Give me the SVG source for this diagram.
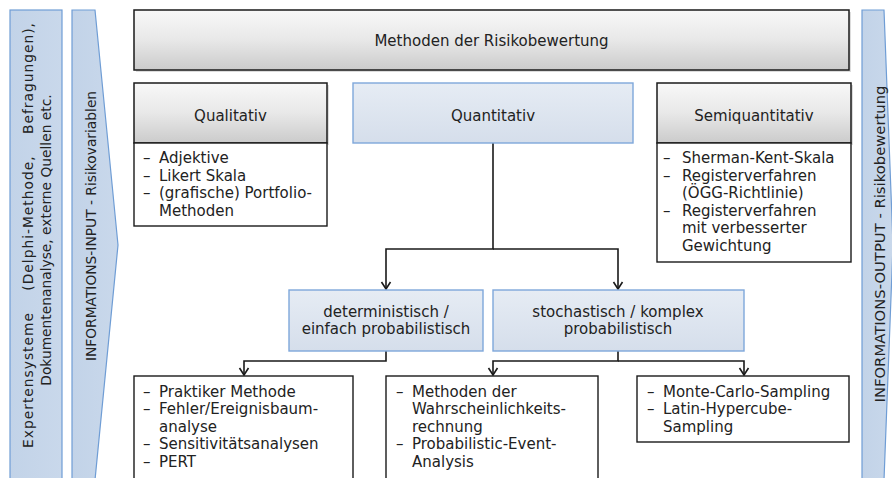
<svg xmlns="http://www.w3.org/2000/svg" width="892" height="478" viewBox="0 0 892 478">
  <defs>
    <linearGradient id="gGray" x1="0" y1="0" x2="0" y2="1">
      <stop offset="0" stop-color="#f8f8f8"/>
      <stop offset="0.5" stop-color="#e8e8e8"/>
      <stop offset="1" stop-color="#cbcbcb"/>
    </linearGradient>
    <linearGradient id="gBlue" x1="0" y1="0" x2="0" y2="1">
      <stop offset="0" stop-color="#e6ecf4"/>
      <stop offset="1" stop-color="#d5deeb"/>
    </linearGradient>
    <linearGradient id="gPanel" x1="0" y1="0" x2="1" y2="0">
      <stop offset="0" stop-color="#c2d3e8"/>
      <stop offset="1" stop-color="#c9d8eb"/>
    </linearGradient>
    <!-- open chevron arrowhead, pointing along the path direction -->
    <marker id="arr" viewBox="-9 -6 11 12" markerWidth="11" markerHeight="12" refX="0" refY="0" orient="auto" markerUnits="userSpaceOnUse" overflow="visible">
      <path d="M-7,-4.5 L0,0 L-7,4.5" fill="none" stroke="#1a1a1a" stroke-width="1.6"/>
    </marker>
  </defs>
  <style>
    text { font-family: "DejaVu Sans", Verdana, sans-serif; fill: #222; }
    .t15 { font-size: 15px; }
    .side { font-size: 13.8px; }
    .mid { text-anchor: middle; }
    .panel { fill: url(#gPanel); stroke: #6f9dd5; stroke-width: 1.2; }
    .gray { fill: url(#gGray); stroke: #1a1a1a; stroke-width: 1.5; }
    .blue { fill: url(#gBlue); stroke: #7ea7db; stroke-width: 1.4; }
    .list { fill: #ffffff; stroke: #1a1a1a; stroke-width: 1.4; }
    .shadow { fill: #9a9a9a; opacity: 0.35; }
    .conn { fill: none; stroke: #1a1a1a; stroke-width: 1.6; }
  </style>

  <rect width="892" height="478" fill="#ffffff"/>

  <!-- side panels -->
  <g id="panel-sources">
    <rect class="panel" x="10" y="10" width="52" height="475"/>
    <text class="side mid" transform="translate(33,235) rotate(-90)" letter-spacing="1" word-spacing="16">Expertensysteme (Delphi-Methode, Befragungen),</text>
    <text class="side mid" transform="translate(51,240) rotate(-90)">Dokumentenanalyse, externe Quellen etc.</text>
  </g>
  <g id="panel-input">
    <polygon class="panel" points="72,10 95,10 118,245 95,480 72,480"/>
    <text class="side mid" transform="translate(96,226) rotate(-90)">INFORMATIONS-INPUT - Risikovariablen</text>
  </g>
  <g id="panel-output">
    <polygon class="panel" points="862,10 884,10 893,245 884,480 862,480"/>
    <text class="mid" font-size="14.8" transform="translate(885,244) rotate(-90)">INFORMATIONS-OUTPUT - Risikobewertung</text>
  </g>

  <!-- connectors -->
  <g id="connectors">
    <path class="conn" d="M493,143 V249 H386 V289" marker-end="url(#arr)"/>
    <path class="conn" d="M493,249 H618 V289" marker-end="url(#arr)"/>
    <path class="conn" d="M386,351 V361 H244 V375" marker-end="url(#arr)"/>
    <path class="conn" d="M618,351 V361 H493 V375" marker-end="url(#arr)"/>
    <path class="conn" d="M618,361 H744 V375" marker-end="url(#arr)"/>
  </g>

  <!-- nodes -->
  <g id="methoden">
    <rect class="shadow" x="136" y="12" width="715" height="60"/>
    <rect class="gray" x="134" y="10" width="715" height="60"/>
    <text class="t15 mid" x="491.5" y="46">Methoden der Risikobewertung</text>
  </g>

  <g id="qualitativ">
    <rect class="shadow" x="136" y="85" width="193" height="60"/>
    <rect class="gray" x="134" y="83" width="193" height="60"/>
    <text class="t15 mid" x="230.5" y="121">Qualitativ</text>
  </g>
  <g id="qualitativ-list">
    <rect class="list" x="134" y="143" width="193" height="83"/>
    <text class="t15"><tspan x="143" y="163">–</tspan><tspan x="159" y="163">Adjektive</tspan><tspan x="143" y="180.5">–</tspan><tspan x="159" y="180.5">Likert Skala</tspan><tspan x="143" y="198">–</tspan><tspan x="159" y="198">(grafische) Portfolio-</tspan><tspan x="159" y="215.5">Methoden</tspan></text>
  </g>

  <g id="quantitativ">
    <rect class="blue" x="353" y="83" width="280" height="60"/>
    <text class="t15 mid" x="493" y="121">Quantitativ</text>
  </g>

  <g id="semiquantitativ">
    <rect class="shadow" x="659" y="85" width="194" height="60"/>
    <rect class="gray" x="657" y="83" width="194" height="60"/>
    <text class="t15 mid" x="754" y="121">Semiquantitativ</text>
  </g>
  <g id="semiquantitativ-list">
    <rect class="list" x="657" y="143" width="194" height="119"/>
    <text class="t15"><tspan x="663" y="163">–</tspan><tspan x="682" y="163">Sherman-Kent-Skala</tspan><tspan x="663" y="180.5">–</tspan><tspan x="682" y="180.5">Registerverfahren</tspan><tspan x="682" y="198">(ÖGG-Richtlinie)</tspan><tspan x="663" y="215.5">–</tspan><tspan x="682" y="215.5">Registerverfahren</tspan><tspan x="682" y="233">mit verbesserter</tspan><tspan x="682" y="250.5">Gewichtung</tspan></text>
  </g>

  <g id="deterministisch">
    <rect class="blue" x="289" y="290" width="194" height="61"/>
    <text class="t15 mid"><tspan x="386" y="316.5">deterministisch /</tspan><tspan x="386" y="334">einfach probabilistisch</tspan></text>
  </g>

  <g id="stochastisch">
    <rect class="blue" x="493" y="290" width="251" height="61"/>
    <text class="t15 mid"><tspan x="618" y="316.5">stochastisch / komplex</tspan><tspan x="618" y="334">probabilistisch</tspan></text>
  </g>

  <g id="det-methods">
    <rect class="list" x="134" y="376" width="219" height="110"/>
    <text class="t15"><tspan x="143" y="396.5">–</tspan><tspan x="159" y="396.5">Praktiker Methode</tspan><tspan x="143" y="414">–</tspan><tspan x="159" y="414">Fehler/Ereignisbaum-</tspan><tspan x="159" y="431.5">analyse</tspan><tspan x="143" y="449">–</tspan><tspan x="159" y="449">Sensitivitätsanalysen</tspan><tspan x="143" y="466.5">–</tspan><tspan x="159" y="466.5">PERT</tspan></text>
  </g>

  <g id="prob-methods">
    <rect class="list" x="386" y="376" width="212" height="110"/>
    <text class="t15"><tspan x="396" y="396.5">–</tspan><tspan x="412" y="396.5">Methoden der</tspan><tspan x="412" y="414">Wahrscheinlichkeits-</tspan><tspan x="412" y="431.5">rechnung</tspan><tspan x="396" y="449">–</tspan><tspan x="412" y="449">Probabilistic-Event-</tspan><tspan x="412" y="466.5">Analysis</tspan></text>
  </g>

  <g id="sampling-methods">
    <rect class="list" x="637" y="376" width="212" height="66"/>
    <text class="t15"><tspan x="647" y="396.5">–</tspan><tspan x="663" y="396.5">Monte-Carlo-Sampling</tspan><tspan x="647" y="414">–</tspan><tspan x="663" y="414">Latin-Hypercube-</tspan><tspan x="663" y="431.5">Sampling</tspan></text>
  </g>
</svg>
